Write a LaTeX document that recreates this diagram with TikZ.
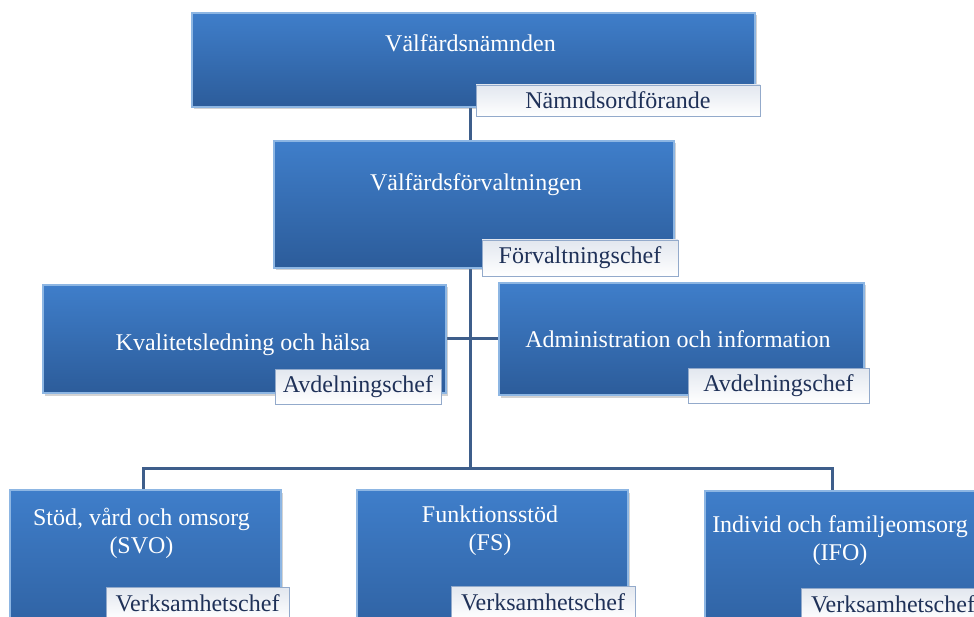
\documentclass[tikz,border=0pt]{standalone}
\usepackage{fontspec}
\setmainfont{Liberation Serif}
\usetikzlibrary{positioning,shadows,backgrounds}
\definecolor{orgTop}{HTML}{3F7ECA}
\definecolor{orgBottom}{HTML}{2C5C9A}
\definecolor{orgEdge}{HTML}{8DB6E3}
\definecolor{orgLink}{HTML}{3E5E8B}
\definecolor{tagTop}{HTML}{E2E7EF}
\definecolor{tagEdge}{HTML}{93AACB}
\definecolor{tagText}{HTML}{1F3158}

\tikzset{
  unitbox/.style={rectangle, top color=orgTop, bottom color=orgBottom,
                  draw=orgEdge, line width=1.5pt, inner sep=0pt,
                  drop shadow={shadow xshift=1.5pt,shadow yshift=-2.5pt,opacity=0.35}},
  unittext/.style={text=white, align=center, font=\fontsize{24}{28}\selectfont},
  roletag/.style={rectangle, top color=tagTop, bottom color=white,
                  draw=tagEdge, line width=0.8pt, inner sep=0pt,
                  text=tagText, font=\fontsize{24}{28}\selectfont},
  link/.style={draw=orgLink, line width=3pt}
}

\begin{document}
\begin{tikzpicture}[x=1pt,y=-1pt]
    \useasboundingbox (0,0) rectangle (974,617);
    \clip (0,0) rectangle (974,617);

    % nämnd och förvaltning
    \node[unitbox, minimum width=563pt, minimum height=94pt] (nmd) at (473.5,60) {};
    \node[unittext, anchor=base] (nmdtext) at (470.5,52) {Välfärdsnämnden};
    \node[roletag, minimum width=284pt, minimum height=31pt] (nmdtag) at (618,100.5) {Nämndsordförande};

    \node[unitbox, minimum width=400pt, minimum height=127pt] (forv) at (474,204.5) {};
    \node[unittext, anchor=base] (forvtext) at (476,191) {Välfärdsförvaltningen};
    \node[roletag, minimum width=196pt, minimum height=36pt] (forvtag) at (580,258) {Förvaltningschef};

    % avdelningar
    \node[unitbox, minimum width=403pt, minimum height=108pt] (kval) at (244.5,339) {};
    \node[unittext, anchor=base] (kvaltext) at (243,350) {Kvalitetsledning och hälsa};
    \node[roletag, minimum width=166pt, minimum height=35pt] (kvaltag) at (358,386.5) {Avdelningschef};

    \node[unitbox, minimum width=365pt, minimum height=112pt] (adm) at (681.5,339) {};
    \node[unittext, anchor=base] (admtext) at (678,348) {Administration och information};
    \node[roletag, minimum width=181pt, minimum height=35pt] (admtag) at (778.5,385.5) {Avdelningschef};

    % verksamheter
    \node[unitbox, minimum width=271pt, minimum height=170pt] (svo) at (145.5,575) {};
    \node[unittext] (svotext) at (141.5,533) {Stöd, vård och omsorg\\(SVO)};
    \node[roletag, minimum width=183pt, minimum height=33pt] (svotag) at (197.5,603.5) {Verksamhetschef};

    \node[unitbox, minimum width=271pt, minimum height=170pt] (fs) at (492.5,575) {};
    \node[unittext] (fstext) at (490,531) {Funktionsstöd\\(FS)};
    \node[roletag, minimum width=184pt, minimum height=33pt] (fstag) at (543,602.5) {Verksamhetschef};

    \node[unitbox, minimum width=271pt, minimum height=170pt] (ifo) at (840.5,576) {};
    \node[unittext] (ifotext) at (840,541) {Individ och familjeomsorg\\(IFO)};
    \node[roletag, minimum width=184pt, minimum height=33pt] (ifotag) at (893,604.5) {Verksamhetschef};

    \coordinate (trunk) at (470,468);
    \coordinate (ifodrop) at ([xshift=-8pt]ifo.north);

    \begin{scope}[on background layer]
      \draw[link] (nmd.south -| trunk) -- (trunk);
      \draw[link] (kval.east) -- (adm.west);
      \draw[link] ([xshift=-2.5pt]svo.north) |- (trunk) -| (ifodrop);
    \end{scope}
\end{tikzpicture}
\end{document}
